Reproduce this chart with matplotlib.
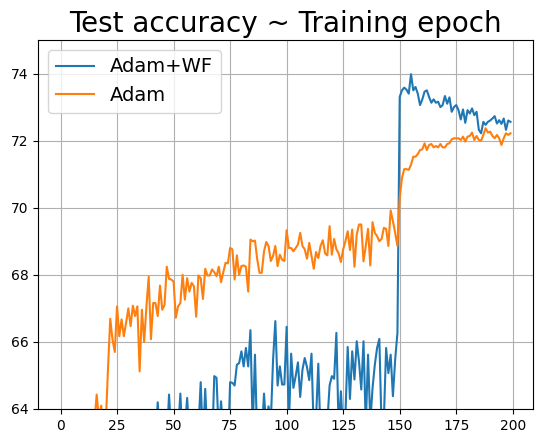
import matplotlib
matplotlib.use("Agg")
import matplotlib.pyplot as plt
import numpy as np

epochs = list(range(200))

adam_wf = [
    38.5, 44.2, 47.9, 50.3, 52.6, 53.8, 55.1, 56.0, 56.9, 57.4,
    58.2, 58.6, 59.1, 59.5, 59.9, 60.3, 60.2, 60.8, 61.0, 61.3,
    61.1, 61.6, 61.8, 61.7, 62.1, 62.3, 62.0, 62.5, 62.6, 62.4,
    62.8, 62.7, 62.9, 63.0, 62.8, 63.1, 63.2, 62.9, 63.3, 63.1,
    63.4, 63.2, 63.0, 64.2, 63.1, 63.4, 63.2, 63.0, 64.43, 63.2,
    63.5, 63.1, 63.3, 64.46, 63.0, 63.4, 64.33, 63.2, 63.5, 63.3,
    62.9, 63.4, 64.8, 63.0, 64.6, 63.1, 63.5, 62.8, 64.98, 64.93,
    63.2, 64.23, 63.3, 63.5, 62.6, 64.8, 64.78, 64.7, 65.32, 65.37,
    65.72, 65.27, 65.82, 65.27, 66.35, 63.4, 65.62, 63.0, 63.5, 63.2,
    64.46, 63.4, 64.08, 63.6, 65.47, 66.62, 64.7, 65.27, 64.73, 64.73,
    66.45, 63.5, 65.65, 64.63, 64.98, 65.39, 64.36, 65.17, 65.52, 65.25,
    64.86, 65.65, 63.3, 63.7, 65.35, 63.2, 63.5, 63.1, 63.6, 64.7,
    64.98, 64.9, 66.27, 63.4, 64.53, 63.3, 63.8, 65.85, 64.3, 65.72,
    64.88, 66.02, 65.42, 64.58, 66.02, 63.5, 65.62, 63.6, 64.63, 65.32,
    65.82, 66.09, 63.4, 63.7, 65.82, 65.07, 65.62, 64.38, 65.47, 66.27,
    73.3, 73.5, 73.58, 73.52, 73.4, 73.98, 73.5, 73.6, 73.4, 73.06,
    73.23, 73.46, 73.5, 73.3, 73.13, 73.23, 73.13, 73.16, 73.0, 73.06,
    73.33, 73.1, 73.29, 72.86, 73.0, 73.06, 72.91, 72.63, 72.93, 72.53,
    72.91, 72.81, 72.96, 72.76, 72.86, 72.32, 72.22, 72.56, 72.47, 72.56,
    72.6, 72.66, 72.73, 72.51, 72.61, 72.5, 72.66, 72.32, 72.6, 72.56,
]

adam = [
    52.1, 56.3, 58.2, 59.4, 60.1, 60.8, 61.0, 61.6, 61.9, 62.3,
    62.0, 62.8, 63.1, 62.7, 63.4, 63.6, 64.43, 63.7, 64.1, 63.2,
    63.5, 65.2, 66.69, 66.07, 65.7, 67.06, 66.17, 66.67, 66.17, 66.57,
    67.0, 66.47, 67.08, 66.77, 67.06, 65.12, 66.96, 66.0, 67.06, 67.94,
    66.08, 67.16, 67.16, 66.77, 67.68, 66.96, 67.1, 68.24, 67.88, 67.86,
    67.8, 66.72, 67.06, 67.16, 68.0, 67.26, 67.9, 67.5, 67.76, 67.66,
    66.75, 67.98, 67.9, 67.28, 68.18, 67.98, 67.98, 68.16, 68.08, 67.96,
    68.24, 67.78, 68.08, 68.36, 68.34, 68.8, 68.76, 67.86, 68.58, 68.0,
    68.26, 68.28, 68.24, 67.5, 69.05, 69.0, 69.02, 68.46, 68.06, 68.06,
    68.7, 68.98, 68.86, 68.41, 68.56, 68.86, 68.26, 68.6, 68.45, 68.41,
    69.33, 68.8, 68.8, 68.7, 68.8, 68.9, 69.25, 68.86, 68.76, 68.48,
    68.95, 68.56, 68.18, 68.68, 68.5, 68.86, 69.03, 68.64, 68.58, 69.45,
    68.6, 69.07, 68.76, 68.64, 68.38, 68.76, 69.0, 69.3, 68.74, 69.35,
    68.24, 69.2, 69.5, 69.5, 68.4, 68.86, 69.37, 68.28, 69.57, 69.25,
    69.15, 69.0, 69.07, 69.4, 69.37, 68.86, 69.92, 69.6, 69.25, 68.86,
    70.3, 70.88, 71.15, 71.15, 71.13, 71.28, 71.52, 71.52, 71.6, 71.72,
    71.74, 71.92, 71.72, 71.87, 71.9, 71.8, 71.84, 71.8, 71.9, 71.8,
    71.8, 71.9, 71.92, 72.04, 72.07, 72.07, 72.07, 72.02, 72.12, 71.97,
    72.12, 72.14, 72.24, 72.02, 72.14, 72.02, 72.0, 72.17, 72.37, 72.24,
    72.27, 72.14, 72.07, 72.17, 72.07, 71.87, 72.07, 72.22, 72.17, 72.22,
]

fig = plt.figure(figsize=(5.43, 4.43), dpi=100)
ax = fig.add_axes([38 / 543, 34 / 443, 495 / 543, 369 / 443])
ax.plot(epochs, adam_wf, label="Adam+WF")
ax.plot(epochs, adam, label="Adam")
ax.set_ylim(64, 75)
ax.set_xticks([0, 25, 50, 75, 100, 125, 150, 175, 200])
ax.set_yticks([64, 66, 68, 70, 72, 74])
ax.grid(True)
ax.set_title("Test accuracy ~ Training epoch", fontsize=20)
ax.legend(loc="upper left", fontsize=14)
fig.savefig("out.png", dpi=100)
